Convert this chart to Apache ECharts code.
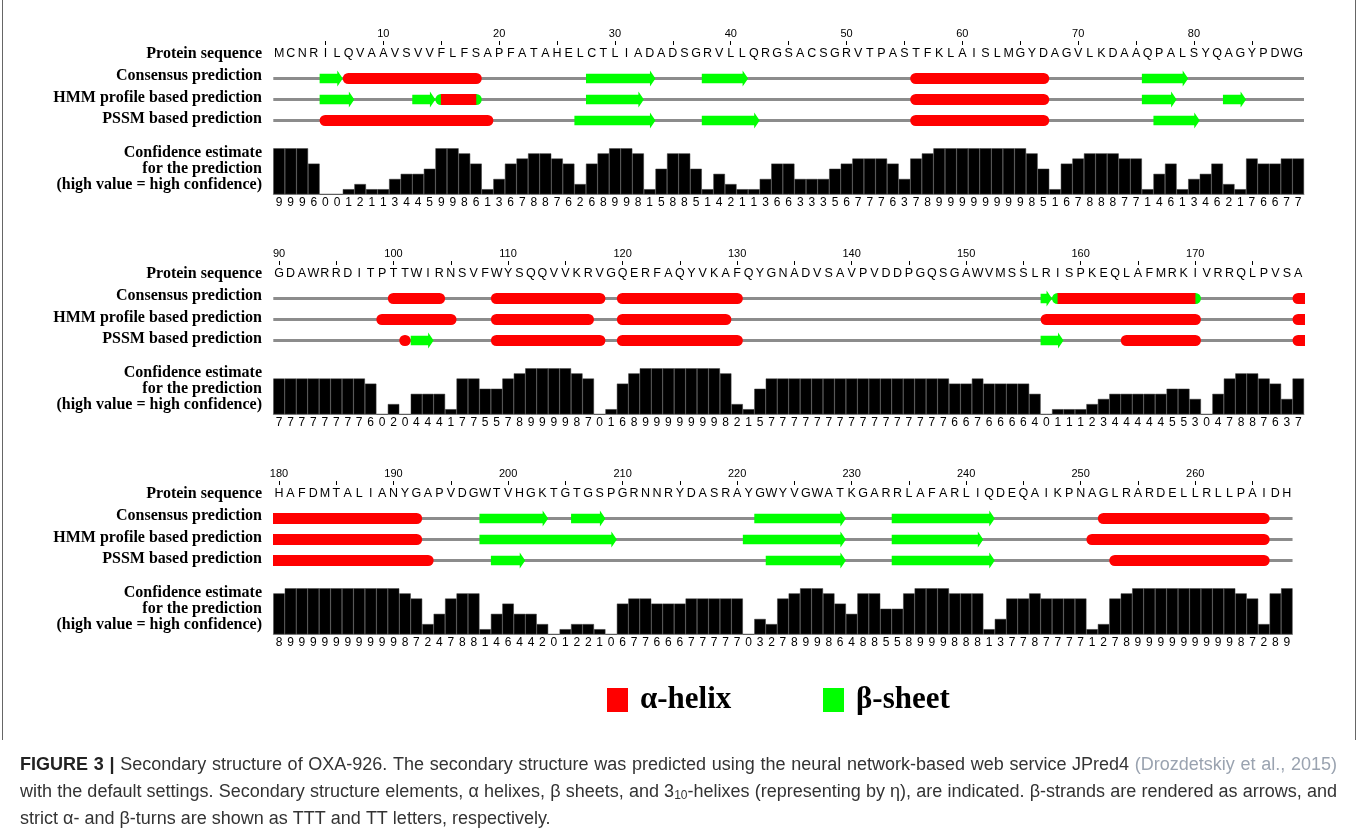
<!DOCTYPE html>
<html>
<head>
<meta charset="utf-8">
<script src="https://cdn.jsdelivr.net/npm/echarts@6/dist/echarts.min.js"></script>
<style>
html, body { margin: 0; padding: 0; background: #ffffff; }
#chart { width: 1358px; height: 829px; }
</style>
</head>
<body>
<div id="chart"></div>
<script>
// OXA-926 sequence, split into the three display rows
const seq1 = 'MCNRILQVAAVSVVFLFSAPFATAHELCTLIADADSGRVLLQRGSACSGRVTPASTFKLAISLMGYDAGVLKDAAQPALSYQAGYPDWG';
const seq2 = 'GDAWRRDITPTTWIRNSVFWYSQQVVKRVGQERFAQYVKAFQYGNADVSAVPVDDPGQSGAWVMSSLRISPKEQLAFMRKIVRRQLPVSA';
const seq3 = 'HAFDMTALIANYGAPVDGWTVHGKTGTGSPGRNNRYDASRAYGWYVGWATKGARRLAFARLIQDEQAIKPNAGLRARDELLRLLPAIDH';
const rowStarts = [1, 90, 180];

// JPred confidence per residue (0-9)
const confidence1 = [9,9,9,6,0,0,1,2,1,1, 3,4,4,5,9,9,8,6,1,3, 6,7,8,8,7,6,2,6,8,9, 9,8,1,5,8,8,5,1,4,2,
  1,1,3,6,6,3,3,3,5,6, 7,7,7,6,3,7,8,9,9,9, 9,9,9,9,9,8,5,1,6,7, 8,8,8,7,7,1,4,6,1,3, 4,6,2,1,7,6,6,7,7];
const confidence2 = [7,7,7,7,7,7,7,7,6,0, 2,0,4,4,4,1,7,7,5,5, 7,8,9,9,9,9,8,7,0,1, 6,8,9,9,9,9,9,9,9,8,
  2,1,5,7,7,7,7,7,7,7, 7,7,7,7,7,7,7,7,7,6, 6,7,6,6,6,6,4,0,1,1, 1,2,3,4,4,4,4,4,5,5, 3,0,4,7,8,8,7,6,3,7];
const confidence3 = [8,9,9,9,9,9,9,9,9,9, 9,8,7,2,4,7,8,8,1,4, 6,4,4,2,0,1,2,2,1,0, 6,7,7,6,6,6,7,7,7,7,
  7,0,3,2,7,8,9,9,8,6, 4,8,8,5,5,8,9,9,9,8, 8,8,1,3,7,7,8,7,7,7, 7,1,2,7,8,9,9,9,9,9, 9,9,9,9,8,7,2,8,9];

// Secondary structure elements: [first residue, last residue, type]
// H = alpha-helix, E = beta-strand, HE = helix flanked by strand ends
const consensusElements = [[5,6,'E'],[7,18,'H'],[28,33,'E'],[38,41,'E'],[56,67,'H'],[76,79,'E'],
  [100,104,'H'],[109,118,'H'],[120,130,'H'],[157,157,'E'],[158,170,'HE'],[179,192,'H'],
  [198,203,'E'],[206,208,'E'],[222,229,'E'],[234,242,'E'],[252,266,'H']];
const hmmElements = [[5,7,'E'],[13,14,'E'],[15,18,'HE'],[28,32,'E'],[56,67,'H'],[76,78,'E'],[83,84,'E'],
  [99,105,'H'],[109,117,'H'],[120,129,'H'],[157,170,'H'],[179,192,'H'],
  [198,209,'E'],[221,229,'E'],[234,241,'E'],[251,266,'H']];
const pssmElements = [[5,19,'H'],[27,33,'E'],[38,42,'E'],[56,67,'H'],[77,80,'E'],
  [101,101,'H'],[102,103,'E'],[109,118,'H'],[120,130,'H'],[157,158,'E'],[164,170,'H'],[179,193,'H'],
  [199,201,'E'],[223,229,'E'],[234,242,'E'],[253,266,'H']];

const trackNames = ['Consensus prediction', 'HMM profile based prediction', 'PSSM based prediction'];
const legendItems = [['α-helix', '#ff0000'], ['β-sheet', '#00ff00']];

// ---------------------------------------------------------------- layout
const RED = '#ff0000', GREEN = '#00ff00', GRAY = '#8c8c8c';
const PLOT_LEFT = 273.3, PLOT_SPAN = 1030.7, ROW_STEP = 220;
const SLOTS = [89, 90, 90];
const HELIX_HALF = 5.5, BODY_HALF = 4.8, HEAD_HALF = 8, HEAD_LEN = 5.5;
const LABEL_RIGHT = 262;
const SERIF = "'Liberation Serif', 'Times New Roman', serif";
const SANS = "'Liberation Sans', Arial, sans-serif";

const rows = [
  { seq: seq1, conf: confidence1 },
  { seq: seq2, conf: confidence2 },
  { seq: seq3, conf: confidence3 }
];
const trackSets = [consensusElements, hmmElements, pssmElements];
const KIND = { H: 1, E: 2, HE: 3 };

const grid = [], xAxis = [], yAxis = [], series = [], graphic = [];

function renderTrack(params, api) {
  const a = api.coord([api.value(0), api.value(2)]);
  const b = api.coord([api.value(1), api.value(2)]);
  const kind = api.value(3);
  const x0 = a[0], x1 = b[0], y = a[1];
  if (kind === 0) {
    return { type: 'line', shape: { x1: x0, y1: y, x2: x1, y2: y },
      style: { stroke: GRAY, lineWidth: 3 } };
  }
  if (kind === 1) {
    return { type: 'rect', shape: { x: x0, y: y - HELIX_HALF, width: x1 - x0, height: 2 * HELIX_HALF, r: HELIX_HALF },
      style: { fill: RED } };
  }
  if (kind === 3) {
    return { type: 'group', children: [
      { type: 'rect', shape: { x: x0, y: y - HELIX_HALF, width: x1 - x0, height: 2 * HELIX_HALF, r: HELIX_HALF },
        style: { fill: GREEN } },
      { type: 'rect', shape: { x: x0 + HELIX_HALF, y: y - HELIX_HALF, width: x1 - x0 - 2 * HELIX_HALF, height: 2 * HELIX_HALF },
        style: { fill: RED } }
    ] };
  }
  const hl = Math.min(HEAD_LEN, (x1 - x0) * 0.5);
  return { type: 'polygon', shape: { points: [
      [x0, y - BODY_HALF], [x1 - hl, y - BODY_HALF], [x1 - hl, y - HEAD_HALF], [x1, y],
      [x1 - hl, y + HEAD_HALF], [x1 - hl, y + BODY_HALF], [x0, y + BODY_HALF]] },
    style: { fill: GREEN } };
}

rows.forEach(function (row, b) {
  const dy = b * ROW_STEP;
  const first = rowStarts[b];
  const count = row.seq.length;
  const last = first + count - 1;
  const width = count * PLOT_SPAN / SLOTS[b];
  const nums = [];
  for (let i = 0; i < count; i++) nums.push(String(first + i));

  // track grid (sequence letters, numbering, three predictions)
  grid.push({ left: PLOT_LEFT, top: 68 + dy, width: width, height: 63 });
  // confidence grid
  grid.push({ left: PLOT_LEFT, top: 148.3 + dy, width: width, height: 46 });

  xAxis.push({ type: 'value', gridIndex: 2 * b, min: first - 0.5, max: last + 0.5, show: false });
  xAxis.push({ type: 'category', gridIndex: 2 * b, position: 'top', data: row.seq.split(''),
    axisLine: { show: false }, axisTick: { show: false }, splitLine: { show: false },
    axisLabel: { interval: 0, margin: 7.5, fontSize: 12.5, color: '#000', fontFamily: SANS } });
  xAxis.push({ type: 'category', gridIndex: 2 * b, position: 'top', offset: 23, data: nums,
    axisLine: { show: false }, splitLine: { show: false },
    axisTick: { show: true, alignWithLabel: true, length: 4, lineStyle: { color: '#000', width: 1 },
      interval: function (i, v) { return (+v) % 5 === 0; } },
    axisLabel: { margin: 5.5, fontSize: 11, color: '#000', fontFamily: SANS,
      interval: function (i, v) { return (+v) % 10 === 0; } } });
  xAxis.push({ type: 'category', gridIndex: 2 * b + 1, position: 'bottom', data: nums,
    axisLine: { show: true, lineStyle: { color: '#9a9a9a', width: 1 } }, axisTick: { show: false },
    axisLabel: { interval: 0, margin: 2.4, fontSize: 12, color: '#000', fontFamily: SANS,
      formatter: function (v, i) { return String(row.conf[i]); } } });

  yAxis.push({ type: 'value', gridIndex: 2 * b, min: 0, max: 3, inverse: true, show: false });
  yAxis.push({ type: 'value', gridIndex: 2 * b + 1, min: 0, max: 9, show: false });

  const items = [];
  trackSets.forEach(function (set, k) {
    items.push([first - 0.5, last + 0.5, k + 0.5, 0]);
  });
  trackSets.forEach(function (set, k) {
    set.forEach(function (el) {
      if (el[1] >= first && el[0] <= last) items.push([el[0] - 0.5, el[1] + 0.5, k + 0.5, KIND[el[2]]]);
    });
  });
  series.push({ type: 'custom', xAxisIndex: 4 * b, yAxisIndex: 2 * b, clip: true,
    renderItem: renderTrack, encode: { x: [0, 1], y: 2 }, data: items, silent: true });

  series.push({ type: 'bar', xAxisIndex: 4 * b + 3, yAxisIndex: 2 * b + 1, data: row.conf,
    barCategoryGap: '0%', barGap: '0%', silent: true,
    itemStyle: { color: '#000', borderColor: '#3a3a3a', borderWidth: 0.5 } });

  // row labels
  const labelFont = 'bold 16px ' + SERIF;
  graphic.push({ type: 'text', x: LABEL_RIGHT, y: 53.8 + dy,
    style: { text: 'Protein sequence', font: labelFont, fill: '#000', align: 'right', verticalAlign: 'middle' } });
  trackNames.forEach(function (name, k) {
    graphic.push({ type: 'text', x: LABEL_RIGHT, y: 76.2 + 21.5 * k + dy,
      style: { text: name, font: labelFont, fill: '#000', align: 'right', verticalAlign: 'middle' } });
  });
  ['Confidence estimate', 'for the prediction', '(high value = high confidence)'].forEach(function (t, k) {
    graphic.push({ type: 'text', x: LABEL_RIGHT, y: 153.3 + 16 * k + dy,
      style: { text: t, font: labelFont, fill: '#000', align: 'right', verticalAlign: 'middle' } });
  });
});

// legend
const legendX = [607, 823];
legendItems.forEach(function (it, i) {
  graphic.push({ type: 'rect', shape: { x: legendX[i], y: 688, width: 21, height: 24 }, style: { fill: it[1] } });
  graphic.push({ type: 'text', x: legendX[i] + 33, y: 700,
    style: { text: it[0], font: 'bold 31px ' + SERIF, fill: '#000', align: 'left', verticalAlign: 'middle' } });
});

// frame
graphic.push({ type: 'line', shape: { x1: 2.5, y1: 0, x2: 2.5, y2: 740 }, style: { stroke: '#666', lineWidth: 1 } });
graphic.push({ type: 'line', shape: { x1: 1355.5, y1: 0, x2: 1355.5, y2: 740 }, style: { stroke: '#666', lineWidth: 1 } });

// caption, justified word by word
const CAP_SIZE = 18, CAP_LEFT = 20, CAP_RIGHT = 1337;
const capStyles = {
  n: { font: CAP_SIZE + 'px ' + SANS, fill: '#333', dy: 0 },
  b: { font: 'bold ' + CAP_SIZE + 'px ' + SANS, fill: '#222', dy: 0 },
  c: { font: CAP_SIZE + 'px ' + SANS, fill: '#9aa3b0', dy: 0 },
  s: { font: '12px ' + SANS, fill: '#333', dy: 4 }
};
const captionLines = [
  { y: 765, justify: true, parts: [['FIGURE 3 |', 'b'],
    [' Secondary structure of OXA-926. The secondary structure was predicted using the neural network-based web service JPred4 ', 'n'],
    ['(Drozdetskiy et al., 2015)', 'c']] },
  { y: 792, justify: true, parts: [
    ['with the default settings. Secondary structure elements, α helixes, β sheets, and 3', 'n'], ['10', 's'],
    ['-helixes (representing by η), are indicated. β-strands are rendered as arrows, and', 'n']] },
  { y: 819, justify: false, parts: [['strict α- and β-turns are shown as TTT and TT letters, respectively.', 'n']] }
];
const ctx = document.createElement('canvas').getContext('2d');
function measure(text, style) { ctx.font = capStyles[style].font; return ctx.measureText(text).width; }
captionLines.forEach(function (line) {
  const words = [];
  let cur = [];
  line.parts.forEach(function (p) {
    const pieces = p[0].split(' ');
    pieces.forEach(function (piece, j) {
      if (j > 0) { if (cur.length) words.push(cur); cur = []; }
      if (piece.length) cur.push([piece, p[1]]);
    });
  });
  if (cur.length) words.push(cur);
  const widths = words.map(function (w) {
    return w.reduce(function (s, f) { return s + measure(f[0], f[1]); }, 0);
  });
  const total = widths.reduce(function (s, v) { return s + v; }, 0);
  const gap = line.justify ? (CAP_RIGHT - CAP_LEFT - total) / (words.length - 1) : measure(' ', 'n');
  let x = CAP_LEFT;
  words.forEach(function (w, i) {
    let fx = x;
    w.forEach(function (f) {
      const st = capStyles[f[1]];
      graphic.push({ type: 'text', x: fx, y: line.y + st.dy,
        style: { text: f[0], font: st.font, fill: st.fill, align: 'left', verticalAlign: 'middle' } });
      fx += measure(f[0], f[1]);
    });
    x += widths[i] + gap;
  });
});

const chart = echarts.init(document.getElementById('chart'));
chart.setOption({
  animation: false,
  backgroundColor: '#ffffff',
  grid: grid,
  xAxis: xAxis,
  yAxis: yAxis,
  series: series,
  graphic: { elements: graphic }
});
</script>
</body>
</html>
